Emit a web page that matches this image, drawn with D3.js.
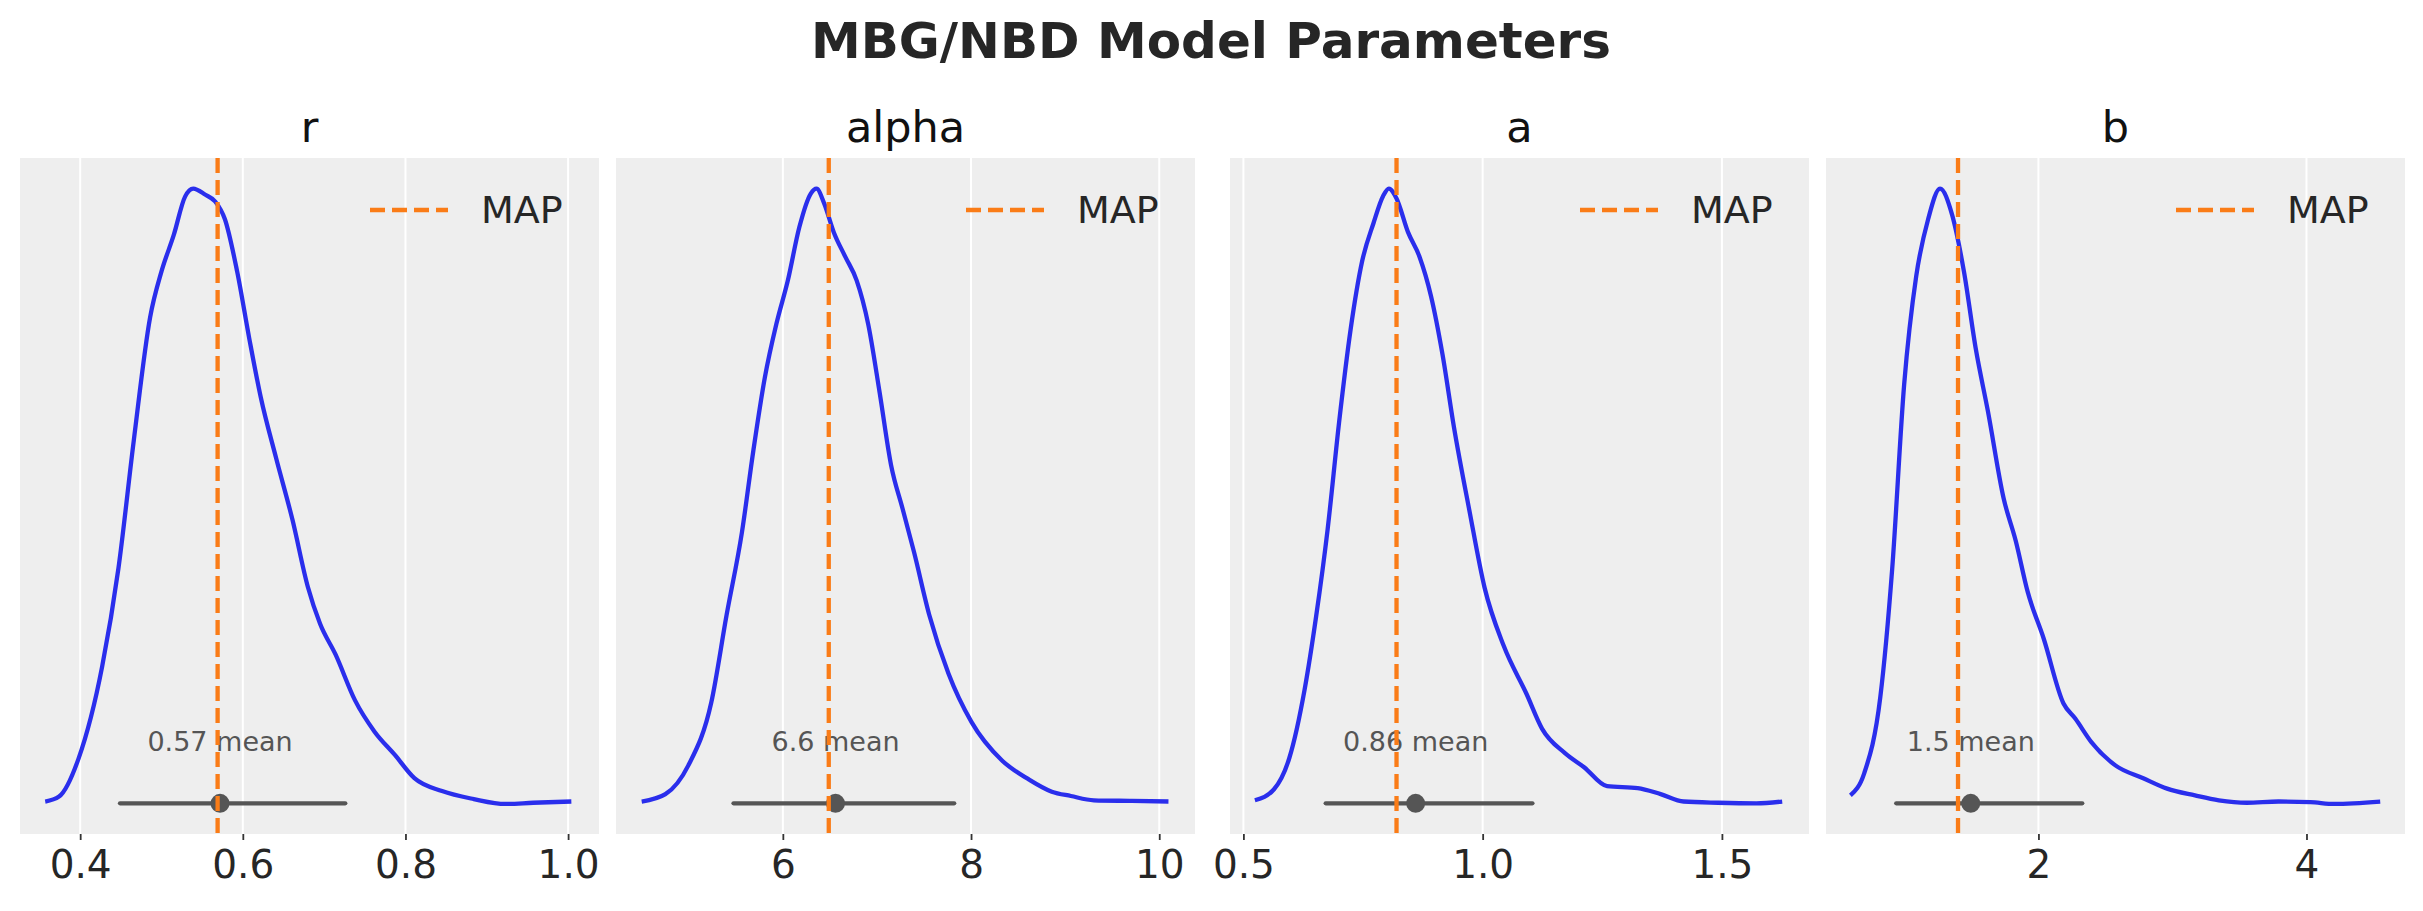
<!DOCTYPE html>
<html>
<head>
<meta charset="utf-8">
<script src="https://cdn.jsdelivr.net/npm/d3@7"></script>
<style>
  body { margin: 0; background: #fff; }
  svg text { font-family: "DejaVu Sans", sans-serif; }
</style>
</head>
<body>
<svg id="chart" width="2423" height="911"></svg>
<script>
// parameter names, shown as panel titles
const params = ["r", "alpha", "a", "b"];

// density curves (value, relative density)
const rDensity = [[0.357,0],[0.374,0.008],[0.398,0.07],[0.427,0.22],[0.447,0.38],[0.466,0.59],[0.486,0.79],[0.5,0.865],[0.515,0.924],[0.529,0.987],[0.539,1.0],[0.554,0.99],[0.566,0.979],[0.578,0.95],[0.593,0.865],[0.608,0.755],[0.622,0.66],[0.641,0.56],[0.661,0.46],[0.68,0.35],[0.695,0.29],[0.714,0.24],[0.738,0.165],[0.762,0.114],[0.787,0.076],[0.811,0.038],[0.845,0.017],[0.884,0.004],[0.923,-0.004],[0.957,-0.002],[1.004,0]];
const alphaDensity = [[4.5,0],[4.752,0.012],[4.996,0.059],[5.24,0.162],[5.402,0.304],[5.565,0.439],[5.687,0.573],[5.809,0.692],[5.931,0.779],[6.053,0.85],[6.175,0.937],[6.297,0.992],[6.358,1.0],[6.439,0.976],[6.541,0.929],[6.663,0.889],[6.785,0.85],[6.907,0.779],[7.028,0.668],[7.15,0.549],[7.272,0.478],[7.394,0.407],[7.557,0.304],[7.76,0.209],[8.004,0.13],[8.329,0.067],[8.614,0.036],[8.858,0.016],[9.061,0.009],[9.305,0.002],[9.711,0.001],[10.098,0]];
const aDensity = [[0.524,0.002],[0.564,0.02],[0.596,0.071],[0.628,0.183],[0.652,0.302],[0.676,0.444],[0.7,0.619],[0.724,0.77],[0.748,0.881],[0.772,0.944],[0.792,0.988],[0.804,1.0],[0.82,0.984],[0.844,0.929],[0.868,0.889],[0.892,0.825],[0.916,0.73],[0.94,0.611],[0.972,0.476],[1.004,0.349],[1.044,0.254],[1.092,0.175],[1.124,0.119],[1.172,0.079],[1.212,0.056],[1.26,0.025],[1.324,0.022],[1.372,0.012],[1.42,0],[1.492,-0.002],[1.572,-0.003],[1.626,0]];
const bDensity = [[0.597,0.01],[0.70,0.046],[0.82,0.17],[0.909,0.38],[0.998,0.68],[1.088,0.857],[1.177,0.95],[1.266,1.0],[1.355,0.958],[1.444,0.865],[1.533,0.738],[1.623,0.637],[1.741,0.494],[1.83,0.426],[1.92,0.342],[2.039,0.266],[2.187,0.16],[2.276,0.135],[2.395,0.097],[2.574,0.059],[2.782,0.038],[2.96,0.021],[3.168,0.01],[3.346,0.002],[3.554,-0.002],[3.792,0],[4.03,-0.001],[4.208,-0.004],[4.55,0]];
const densities = [rDensity, alphaDensity, aDensity, bDensity];

const means = [0.572, 6.56, 0.86, 1.495];
const meanLabels = ["0.57", "6.6", "0.86", "1.5"];
const hdiLow = [0.449, 5.476, 0.672, 0.939];
const hdiHigh = [0.726, 7.821, 1.104, 2.327];
const mapValues = [0.569, 6.488, 0.82, 1.40];

const xDomains = [[0.326, 1.038], [4.227, 10.38], [0.472, 1.682], [0.415, 4.735]];
const xTicks = [[0.4, 0.6, 0.8, 1.0], [6, 8, 10], [0.5, 1.0, 1.5], [2, 4]];
const tickFormats = [".1f", "d", ".1f", "d"];

const svg = d3.select("#chart");
const panelLefts = [20, 616, 1230, 1826];
const panelW = 579;
const plotTop = 158, plotBottom = 834;

svg.append("text")
    .attr("x", 1211).attr("y", 58)
    .attr("text-anchor", "middle")
    .attr("font-size", 50).attr("font-weight", "bold")
    .attr("fill", "#262626")
    .text("MBG/NBD Model Parameters");

params.forEach((p, i) => {
    const x = d3.scaleLinear().domain(xDomains[i]).range([panelLefts[i], panelLefts[i] + panelW]);
    const y = d3.scaleLinear().domain([-0.053, 1.05]).range([plotBottom, plotTop]);
    const g = svg.append("g");

    g.append("rect")
        .attr("x", panelLefts[i]).attr("y", plotTop)
        .attr("width", panelW).attr("height", plotBottom - plotTop)
        .attr("fill", "#eeeeee");

    // vertical grid
    g.selectAll(".grid").data(xTicks[i]).enter().append("line")
        .attr("x1", d => x(d)).attr("x2", d => x(d))
        .attr("y1", plotTop).attr("y2", plotBottom)
        .attr("stroke", "#fff").attr("stroke-width", 2);

    const axis = g.append("g")
        .attr("transform", `translate(0,${plotBottom})`)
        .call(d3.axisBottom(x).tickValues(xTicks[i]).tickFormat(d3.format(tickFormats[i])).tickSize(6).tickPadding(10));
    axis.select(".domain").remove();
    axis.selectAll("line").attr("stroke", "#333").attr("stroke-width", 1.8);
    axis.selectAll("text").attr("font-size", 39).attr("fill", "#262626")
        .style("font-family", "'DejaVu Sans', sans-serif");

    g.append("text")
        .attr("x", panelLefts[i] + panelW / 2).attr("y", 142)
        .attr("text-anchor", "middle")
        .attr("font-size", 43).attr("fill", "#111")
        .text(p);

    g.append("path")
        .datum(densities[i])
        .attr("d", d3.line().x(d => x(d[0])).y(d => y(d[1])).curve(d3.curveMonotoneX))
        .attr("fill", "none").attr("stroke", "#2a2eec").attr("stroke-width", 4.3);

    // HDI and mean
    g.append("line")
        .attr("x1", x(hdiLow[i])).attr("x2", x(hdiHigh[i]))
        .attr("y1", y(-0.003)).attr("y2", y(-0.003))
        .attr("stroke", "#555").attr("stroke-width", 4.3).attr("stroke-linecap", "round");
    g.append("circle")
        .attr("cx", x(means[i])).attr("cy", y(-0.003)).attr("r", 9.5)
        .attr("fill", "#555");
    g.append("text")
        .attr("x", x(means[i])).attr("y", y(0.082))
        .attr("text-anchor", "middle")
        .attr("font-size", 27).attr("fill", "#555")
        .text(`${meanLabels[i]} mean`);

    // MAP line
    g.append("line")
        .attr("x1", x(mapValues[i])).attr("x2", x(mapValues[i]))
        .attr("y1", plotTop).attr("y2", plotBottom)
        .attr("stroke", "#fa7c17").attr("stroke-width", 4.3)
        .attr("stroke-dasharray", "15,7");

    // legend
    const right = panelLefts[i] + panelW;
    g.append("line")
        .attr("x1", right - 229).attr("x2", right - 151)
        .attr("y1", 210).attr("y2", 210)
        .attr("stroke", "#fa7c17").attr("stroke-width", 4.3)
        .attr("stroke-dasharray", "15,7");
    g.append("text")
        .attr("x", right - 118).attr("y", 223)
        .attr("font-size", 38).attr("fill", "#262626")
        .text("MAP");
});
</script>
</body>
</html>
